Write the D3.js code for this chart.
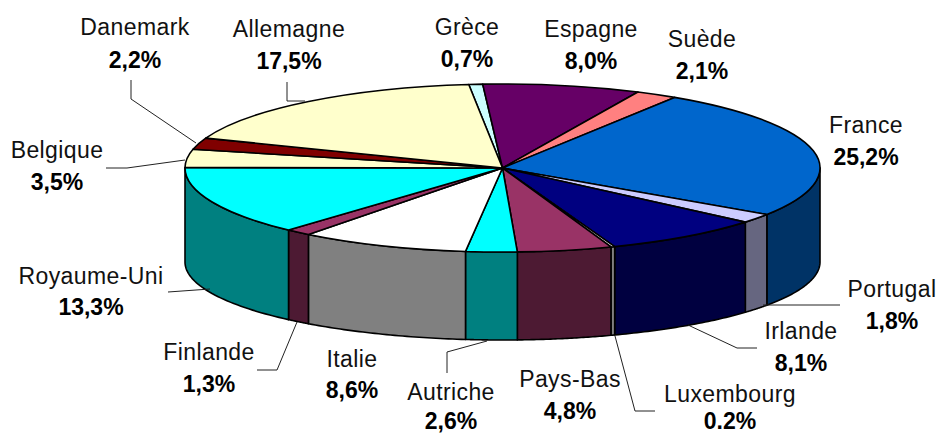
<!DOCTYPE html>
<html><head><meta charset="utf-8">
<script src="https://cdn.jsdelivr.net/npm/d3@7/dist/d3.min.js"></script>
<style>html,body{margin:0;padding:0;background:#fff}svg{display:block}
text{font-family:"Liberation Sans",Arial,sans-serif;fill:#000;text-anchor:middle}
.n{font-size:23px;letter-spacing:.4px;fill:#111}.v{font-size:23px;font-weight:bold}</style></head><body>
<svg id="c" width="938" height="434"></svg>
<script>
const categories = ["Grèce","Espagne","Suède","France","Portugal","Irlande","Luxembourg","Pays-Bas","Autriche","Italie","Finlande","Royaume-Uni","Belgique","Danemark","Allemagne"];
const values = [0.7,8.0,2.1,25.2,1.8,8.1,0.2,4.8,2.6,8.6,1.3,13.3,3.5,2.2,17.5];
const valueLabels = ["0,7%","8,0%","2,1%","25,2%","1,8%","8,1%","0.2%","4,8%","2,6%","8,6%","1,3%","13,3%","3,5%","2,2%","17,5%"];
const topColors = ["#ccffff","#660066","#ff8080","#0066cc","#ccccff","#000080","#ffffff","#993366","#00ffff","#ffffff","#993366","#00ffff","#ffffcc","#800000","#ffffcc"];
const wallColors = ["#668080","#330033","#804040","#003366","#666680","#000040","#808080","#4d1a33","#008080","#808080","#4d1a33","#008080","#808066","#400000","#808066"];

// layout, separate from the data: [centre x, name baseline, value baseline]
const labelPos = [[467,35,67],[591,37,69],[702,47,79],[866,133,165],[892,297,329],[801,339,371],[730,402,429],[570,387,419],[451,400,429],[352,367,398],[209,360,392],[91,284,315],[57,158,190],[135,35,68],[289,37,69]];
const leaders = [
 [[131,80],[131,99],[196,143]],
 [[287,82],[287,101],[305,101]],
 [[106,168],[127,168],[185,160]],
 [[168,292],[210,289]],
 [[257,370],[277,370],[297,322]],
 [[447,373],[447,352],[487,341]],
 [[615,336],[635,411],[655,411]],
 [[688,325],[737,348],[757,348]],
 [[763,305],[840,305]]
];
const top_ = {cx:502.5, cy:168, rx:317.5, ry:84};
const bot = {cx:502.5, cy:262, rx:317.5, ry:78};
const startAngle = -6.1*Math.PI/180;

const svg = d3.select("#c");
const arcs = d3.pie().sort(null).value(d=>d).startAngle(startAngle).endAngle(startAngle+2*Math.PI)(values);
const lineGen = d3.line();
const pt = (e,a)=>[e.cx+e.rx*Math.sin(a), e.cy-e.ry*Math.cos(a)];

// walls: only the front half of the rim (90° to 270°) is visible
const lo = Math.PI/2, hi = 3*Math.PI/2;
svg.append("g").selectAll("path").data(arcs.filter(d=>d.endAngle>lo && d.startAngle<hi)).join("path")
  .attr("d", d=>{
    const a0=Math.max(d.startAngle,lo), a1=Math.min(d.endAngle,hi);
    const ang=d3.range(0,41).map(i=>a0+(a1-a0)*i/40);
    return lineGen([...ang.map(a=>pt(top_,a)), ...ang.slice().reverse().map(a=>pt(bot,a))])+"Z";
  })
  .attr("fill",d=>wallColors[d.index]).attr("stroke","#000").attr("stroke-width",1.6).attr("stroke-linejoin","round");

// top face
const arc = d3.arc().innerRadius(0).outerRadius(top_.rx);
svg.append("g").attr("transform",`translate(${top_.cx},${top_.cy}) scale(1,${top_.ry/top_.rx})`)
  .selectAll("path").data(arcs).join("path")
  .attr("d",arc).attr("fill",d=>topColors[d.index])
  .attr("stroke","#000").attr("stroke-width",1.6).attr("vector-effect","non-scaling-stroke").attr("stroke-linejoin","round");

// leaders
svg.append("g").selectAll("path").data(leaders).join("path")
  .attr("d",lineGen).attr("fill","none").attr("stroke","#222").attr("stroke-width",1);

// labels
const lab = svg.append("g").selectAll("g").data(categories).join("g");
lab.append("text").attr("class","n").attr("x",(d,i)=>labelPos[i][0]).attr("y",(d,i)=>labelPos[i][1]).text(d=>d);
lab.append("text").attr("class","v").attr("x",(d,i)=>labelPos[i][0]).attr("y",(d,i)=>labelPos[i][2]).text((d,i)=>valueLabels[i]);
</script></body></html>
